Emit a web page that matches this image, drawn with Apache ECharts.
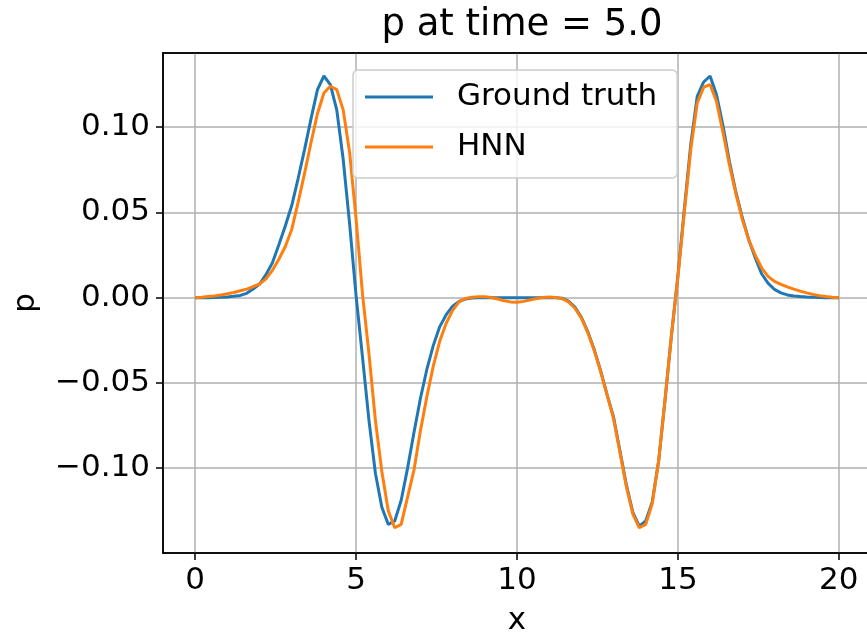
<!DOCTYPE html>
<html>
<head>
<meta charset="utf-8">
<title>p at time = 5.0</title>
<script src="https://cdn.jsdelivr.net/npm/echarts@6.0.0/dist/echarts.min.js"></script>
<style>
  html, body { margin: 0; padding: 0; background: #ffffff; }
  #chart { width: 867px; height: 637px; }
</style>
</head>
<body>
<div id="chart"></div>
<script>
// sample positions along x (step 0.2)
var xValues = [];
for (var k = 0; k <= 100; k++) xValues.push(+(k * 0.2).toFixed(1));

// values, one per x sample
var groundTruth = [
  0, 0, 0, 0.0001, 0.0002, 0.0004, 0.0008, 0.0013, 0.0025, 0.0050,
  0.0080, 0.0135, 0.0205, 0.0310, 0.0420, 0.0540, 0.0700, 0.0870, 0.1050, 0.1220,
  0.1300, 0.1250, 0.1100, 0.0810, 0.0430, 0.0010, -0.0350, -0.0720, -0.1030, -0.1230,
  -0.1330, -0.1310, -0.1190, -0.1000, -0.0790, -0.0590, -0.0420, -0.0280, -0.0170, -0.0100,
  -0.0050, -0.0022, -0.0008, -0.0002, 0, 0, 0, 0, 0, 0,
  0, 0, 0, 0, 0, 0, 0, -0.0003, -0.0020, -0.0055,
  -0.0115, -0.0200, -0.0305, -0.0430, -0.0570, -0.0700, -0.0900, -0.1100, -0.1260, -0.1340,
  -0.1310, -0.1200, -0.0960, -0.0600, -0.0220, 0.0130, 0.0520, 0.0900, 0.1180, 0.1265,
  0.1300, 0.1190, 0.1010, 0.0800, 0.0620, 0.0470, 0.0340, 0.0235, 0.0140, 0.0085,
  0.0048, 0.0028, 0.0016, 0.0010, 0.0006, 0.0003, 0.0002, 0.0001, 0, 0,
  0
];

var hnn = [
  0, 0.0002, 0.0006, 0.0010, 0.0016, 0.0023, 0.0030, 0.0040, 0.0050, 0.0065,
  0.0080, 0.0110, 0.0160, 0.0225, 0.0300, 0.0400, 0.0560, 0.0730, 0.0910, 0.1080,
  0.1200, 0.1240, 0.1220, 0.1100, 0.0850, 0.0460, 0.0020, -0.0330, -0.0720, -0.1020,
  -0.1250, -0.1350, -0.1330, -0.1170, -0.1010, -0.0780, -0.0580, -0.0400, -0.0255, -0.0150,
  -0.0075, -0.0025, -0.0005, 0.0002, 0.0005, 0.0005, 0.0001, -0.0008, -0.0018, -0.0025,
  -0.0027, -0.0022, -0.0014, -0.0006, 0.0001, 0.0003, 0.0001, -0.0006, -0.0025, -0.0062,
  -0.0120, -0.0205, -0.0310, -0.0435, -0.0570, -0.0710, -0.0910, -0.1110, -0.1270, -0.1350,
  -0.1330, -0.1210, -0.0960, -0.0600, -0.0220, 0.0120, 0.0500, 0.0870, 0.1140, 0.1235,
  0.1250, 0.1150, 0.0970, 0.0780, 0.0610, 0.0460, 0.0340, 0.0250, 0.0175, 0.0125,
  0.0095, 0.0078, 0.0063, 0.0050, 0.0038, 0.0028, 0.0019, 0.0011, 0.0006, 0.0002,
  0
];

var seriesNames = ["Ground truth", "HNN"];

function pairs(ys) {
  return xValues.map(function (x, i) { return [x, ys[i]]; });
}

var chart = echarts.init(document.getElementById("chart"));
var font = "DejaVu Sans";

var option = {
  animation: false,
  backgroundColor: "#ffffff",
  textStyle: { fontFamily: font },
  title: {
    text: "p at time = 5.0",
    left: 517,
    textAlign: "center",
    top: 2,
    textStyle: { fontFamily: font, fontSize: 37, fontWeight: "normal", color: "#000" }
  },
  legend: {
    orient: "vertical",
    left: 353,
    top: 70,
    padding: [9, 20, 13, 12],
    icon: "rect",
    itemWidth: 68,
    itemHeight: 3,
    itemGap: 14,
    backgroundColor: "rgba(255,255,255,0.8)",
    borderColor: "#cccccc",
    borderWidth: 1.5,
    borderRadius: 5,
    textStyle: { fontFamily: font, fontSize: 31, color: "#000", lineHeight: 36, padding: [0, 0, 0, 19] },
    data: seriesNames
  },
  grid: {
    left: 163,
    top: 53,
    width: 708,
    height: 500,
    show: true,
    borderColor: "#000",
    borderWidth: 1.5,
    outerBoundsMode: "none",
    containLabel: false
  },
  xAxis: [
    {
      type: "value",
      min: -1,
      max: 21,
      splitNumber: 5,
      name: "x",
      nameLocation: "middle",
      nameGap: 52,
      nameTextStyle: { fontFamily: font, fontSize: 31, color: "#000" },
      axisLine: { show: true, onZero: false, lineStyle: { color: "#000", width: 1.5 } },
      axisTick: { show: true, length: 7, lineStyle: { color: "#000", width: 1.5 } },
      axisLabel: {
        fontFamily: font, fontSize: 31, color: "#000", margin: 12,
        showMinLabel: false, showMaxLabel: false
      },
      splitLine: { show: true, showMinLine: false, showMaxLine: false, lineStyle: { color: "#b0b0b0", width: 1.5 } }
    },
    {
      // top spine only
      type: "value",
      position: "top",
      min: -1,
      max: 21,
      axisLine: { show: true, onZero: false, lineStyle: { color: "#000", width: 1.5 } },
      axisTick: { show: false },
      axisLabel: { show: false },
      splitLine: { show: false }
    }
  ],
  yAxis: {
    type: "value",
    min: -0.1498,
    max: 0.1435,
    splitNumber: 6,
    name: "p",
    nameLocation: "middle",
    nameGap: 122,
    nameTextStyle: { fontFamily: font, fontSize: 31, color: "#000" },
    axisLine: { show: true, onZero: false, lineStyle: { color: "#000", width: 1.5 } },
    axisTick: { show: true, length: 7, lineStyle: { color: "#000", width: 1.5 } },
    axisLabel: {
      fontFamily: font, fontSize: 31, color: "#000", margin: 13,
      showMinLabel: false, showMaxLabel: false,
      formatter: function (v) { return v.toFixed(2).replace("-", "\u2212"); }
    },
    splitLine: { show: true, showMinLine: false, showMaxLine: false, lineStyle: { color: "#b0b0b0", width: 1.5 } }
  },
  series: [
    {
      name: seriesNames[0],
      type: "line",
      symbol: "none",
      data: pairs(groundTruth),
      itemStyle: { color: "#1f77b4" },
      lineStyle: { color: "#1f77b4", width: 3 }
    },
    {
      name: seriesNames[1],
      type: "line",
      symbol: "none",
      data: pairs(hnn),
      itemStyle: { color: "#ff7f0e" },
      lineStyle: { color: "#ff7f0e", width: 3 }
    }
  ]
};

chart.setOption(option);
</script>
</body>
</html>
